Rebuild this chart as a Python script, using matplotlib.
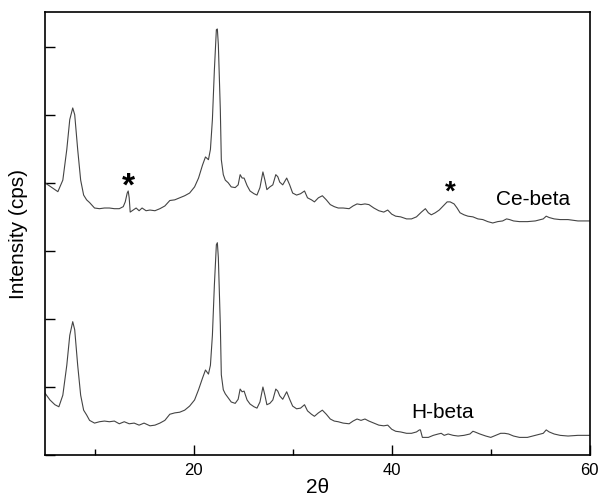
import matplotlib.pyplot as plt
from matplotlib.ticker import MultipleLocator, NullFormatter

plt.rcParams['font.family'] = ['Liberation Sans', 'DejaVu Sans']

# Ce-beta pattern (2theta, intensity in arbitrary stacked units)
ce_2theta = [5.0, 5.7, 6.3, 6.8, 7.2, 7.5, 7.8, 8.0, 8.3, 8.6, 8.9, 9.2, 9.5, 10.0,
             10.5, 11.0, 11.5, 12.0, 12.5, 12.9, 13.1, 13.3, 13.4, 13.5, 13.6, 13.9,
             14.2, 14.5, 14.8, 15.2, 15.6, 16.1, 16.6, 17.1, 17.6, 18.1, 18.6, 19.1,
             19.6, 20.1, 20.5, 20.9, 21.2, 21.5, 21.7, 21.9, 22.1, 22.3, 22.4, 22.5,
             22.7, 22.8, 23.0, 23.2, 23.5, 23.8, 24.2, 24.5, 24.7, 24.9, 25.1, 25.4,
             25.7, 26.1, 26.4, 26.7, 27.0, 27.2, 27.4, 27.7, 28.0, 28.3, 28.5, 28.7,
             29.0, 29.4, 29.7, 30.0, 30.4, 30.8, 31.2, 31.5, 31.9, 32.2, 32.6, 33.0,
             33.4, 33.8, 34.2, 34.6, 35.1, 35.7, 36.1, 36.5, 36.9, 37.3, 37.7, 38.2,
             38.7, 39.2, 39.6, 40.0, 40.4, 40.9, 41.5, 42.0, 42.5, 43.0, 43.4, 43.7,
             44.0, 44.4, 44.8, 45.2, 45.6, 45.9, 46.3, 46.6, 46.9, 47.3, 47.7, 48.2,
             48.7, 49.2, 49.7, 50.2, 50.7, 51.2, 51.6, 51.9, 52.3, 52.9, 53.7, 54.5,
             55.3, 55.6, 55.9, 56.4, 57.0, 57.8, 58.8, 60.0]
ce_intensity = [4.00, 3.93, 3.87, 4.04, 4.49, 4.93, 5.10, 5.00, 4.49, 4.04, 3.82, 3.75,
                3.71, 3.63, 3.62, 3.63, 3.63, 3.62, 3.62, 3.65, 3.72, 3.85, 3.88, 3.78,
                3.57, 3.60, 3.63, 3.59, 3.63, 3.59, 3.60, 3.59, 3.62, 3.66, 3.74, 3.75,
                3.78, 3.81, 3.85, 3.94, 4.07, 4.26, 4.38, 4.34, 4.49, 4.93, 5.66, 6.25,
                6.26, 6.03, 5.07, 4.34, 4.12, 4.04, 4.00, 3.94, 3.93, 3.97, 4.12, 4.07,
                4.07, 3.96, 3.88, 3.84, 3.82, 3.93, 4.16, 4.04, 3.90, 3.94, 3.97, 4.12,
                4.09, 4.01, 3.97, 4.07, 3.97, 3.85, 3.82, 3.84, 3.88, 3.78, 3.75, 3.72,
                3.78, 3.81, 3.75, 3.68, 3.65, 3.63, 3.63, 3.62, 3.66, 3.69, 3.68, 3.69,
                3.68, 3.63, 3.59, 3.57, 3.60, 3.54, 3.51, 3.50, 3.47, 3.47, 3.50, 3.57,
                3.62, 3.56, 3.53, 3.56, 3.60, 3.66, 3.72, 3.72, 3.69, 3.63, 3.56, 3.53,
                3.51, 3.50, 3.47, 3.46, 3.43, 3.41, 3.43, 3.44, 3.47, 3.46, 3.44, 3.43,
                3.43, 3.44, 3.47, 3.51, 3.49, 3.47, 3.46, 3.46, 3.44, 3.44]

# H-beta pattern
h_2theta = [5.0, 5.5, 6.0, 6.4, 6.8, 7.2, 7.5, 7.8, 8.0, 8.3, 8.6, 8.9, 9.2, 9.5, 10.0,
            10.5, 11.0, 11.5, 12.0, 12.5, 13.0, 13.5, 14.0, 14.5, 15.0, 15.6, 16.1,
            16.6, 17.1, 17.6, 18.1, 18.6, 19.1, 19.6, 20.1, 20.5, 20.9, 21.2, 21.5,
            21.7, 21.9, 22.1, 22.3, 22.4, 22.5, 22.7, 22.8, 23.0, 23.2, 23.5, 23.8,
            24.2, 24.5, 24.7, 24.9, 25.1, 25.4, 25.7, 26.1, 26.4, 26.7, 27.0, 27.2,
            27.4, 27.7, 28.0, 28.3, 28.5, 28.7, 29.0, 29.4, 29.7, 30.0, 30.4, 30.8,
            31.2, 31.5, 31.9, 32.2, 32.6, 33.0, 33.4, 33.8, 34.2, 34.6, 35.1, 35.7,
            36.1, 36.5, 36.9, 37.3, 37.7, 38.2, 38.7, 39.2, 39.6, 40.0, 40.4, 40.9,
            41.5, 42.0, 42.5, 42.8, 42.9, 43.1, 43.7, 44.2, 44.7, 45.0, 45.3, 45.7,
            46.2, 46.7, 47.3, 47.9, 48.2, 48.4, 48.9, 49.5, 50.0, 50.5, 51.0, 51.4,
            51.8, 52.3, 52.9, 53.7, 54.5, 55.3, 55.6, 55.9, 56.4, 57.0, 57.8, 58.8, 60.0]
h_intensity = [0.91, 0.81, 0.74, 0.71, 0.88, 1.32, 1.76, 1.96, 1.84, 1.32, 0.88, 0.66,
               0.59, 0.51, 0.47, 0.49, 0.50, 0.49, 0.50, 0.46, 0.49, 0.46, 0.47, 0.44,
               0.47, 0.43, 0.44, 0.47, 0.51, 0.60, 0.62, 0.63, 0.66, 0.72, 0.81, 0.96,
               1.13, 1.25, 1.19, 1.32, 1.76, 2.50, 3.09, 3.12, 2.90, 1.91, 1.18, 0.96,
               0.90, 0.84, 0.78, 0.76, 0.82, 0.97, 0.93, 0.94, 0.81, 0.75, 0.71, 0.69,
               0.78, 1.00, 0.88, 0.74, 0.76, 0.81, 0.97, 0.94, 0.87, 0.82, 0.93, 0.82,
               0.72, 0.68, 0.69, 0.74, 0.65, 0.60, 0.57, 0.62, 0.66, 0.60, 0.53, 0.50,
               0.49, 0.47, 0.46, 0.50, 0.53, 0.51, 0.53, 0.50, 0.47, 0.44, 0.43, 0.44,
               0.38, 0.35, 0.34, 0.32, 0.32, 0.34, 0.37, 0.37, 0.26, 0.26, 0.29, 0.31,
               0.32, 0.29, 0.31, 0.29, 0.28, 0.29, 0.31, 0.35, 0.34, 0.31, 0.28, 0.26,
               0.29, 0.32, 0.32, 0.31, 0.28, 0.26, 0.26, 0.29, 0.32, 0.37, 0.34, 0.31,
               0.29, 0.28, 0.29, 0.29]

# impurity reflections marked with an asterisk
star_2theta = [13.4, 45.9]
star_intensity = [3.99, 3.90]
star_size = [24, 20]

fig = plt.figure(figsize=(6, 4.99), dpi=100)
ax = fig.add_axes([0.075, 0.088, 0.908, 0.888])

ax.plot(ce_2theta, ce_intensity, color='#444444', lw=0.8)
ax.plot(h_2theta, h_intensity, color='#444444', lw=0.8)

for sx, sy, fs in zip(star_2theta, star_intensity, star_size):
    ax.text(sx, sy, '*', fontsize=fs, fontweight='bold',
            ha='center', va='center_baseline')

ax.text(50.5, 3.68, 'Ce-beta', fontsize=15, ha='left', va='baseline')
ax.text(42.0, 0.54, 'H-beta', fontsize=15, ha='left', va='baseline')

ax.set_xlim(5, 60)
ax.set_ylim(0, 6.51)
ax.xaxis.set_major_locator(MultipleLocator(20))
ax.xaxis.set_minor_locator(MultipleLocator(10))
ax.yaxis.set_major_locator(MultipleLocator(1))
ax.yaxis.set_major_formatter(NullFormatter())
ax.tick_params(which='major', direction='in', length=7, width=1, labelsize=12, pad=6)
ax.tick_params(which='minor', direction='in', length=4, width=1)
ax.tick_params(axis='y', which='both', length=7)

for sp in ax.spines.values():
    sp.set_linewidth(1.2)

ax.set_xlabel('2θ', fontsize=15, labelpad=0)
ax.set_ylabel('Intensity (cps)', fontsize=15, labelpad=6)

fig.savefig('out.png', dpi=100)
